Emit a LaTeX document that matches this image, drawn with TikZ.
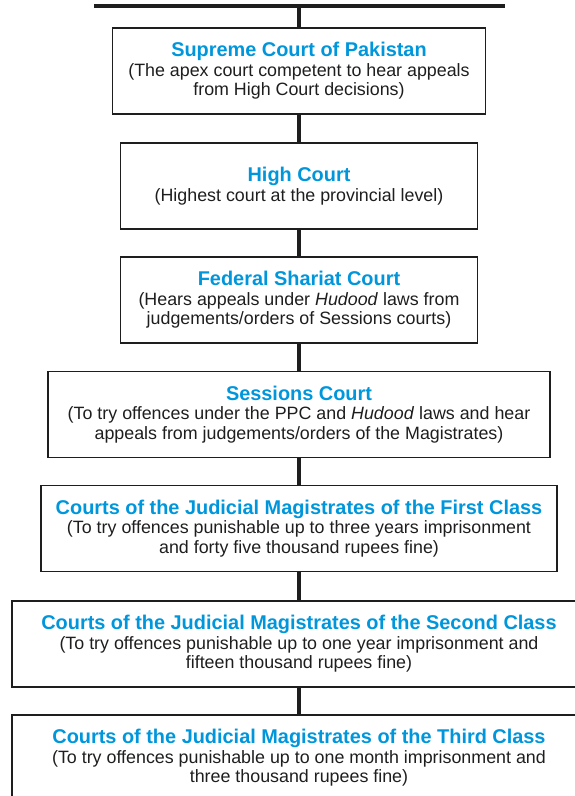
\documentclass[tikz,border=0pt]{standalone}
\usepackage{fontspec}
\setmainfont{Liberation Sans}
\definecolor{court-blue}{RGB}{0,150,219}
\definecolor{court-text}{RGB}{30,30,30}
\tikzset{
	courtbox/.style={draw=court-text, line width=1.4pt, align=center, inner sep=0pt,
		minimum height=86pt, text=court-text, font=\fontsize{17.85}{19.5}\selectfont},
	link/.style={line width=4pt, draw=court-text}
}
\newcommand{\Court}[5]{
	\node[courtbox, minimum width=#3pt] (#1) at (299,#2)
		{{\fontsize{19.9}{22}\selectfont\bfseries\color{court-blue}#4}\\#5};
}

\begin{document}
\begin{tikzpicture}[x=1pt,y=-1pt]
	\useasboundingbox (0,0) rectangle (574,796);
	
	%top bar
	\coordinate (bar-l) at (94,6);
	\coordinate (bar-r) at (505,6);
	\coordinate (bar-m) at (299,6);
	\draw[line width=3.5pt, draw=court-text] (bar-l) -- (bar-r);
	
	%courts
	\Court{supreme}{71}{373}{Supreme Court of Pakistan}{(The apex court competent to hear appeals\\from High Court decisions)}
	\Court{high}{186}{357}{High Court}{(Highest court at the provincial level)}
	\Court{shariat}{300}{357}{Federal Shariat Court}{(Hears appeals under \textit{Hudood} laws from\\judgements/orders of Sessions courts)}
	\Court{sessions}{414.5}{502}{Sessions Court}{(To try offences under the PPC and \textit{Hudood} laws and hear\\appeals from judgements/orders of the Magistrates)}
	\Court{firstclass}{528.5}{516}{Courts of the Judicial Magistrates of the First Class}{(To try offences punishable up to three years imprisonment\\and forty five thousand rupees fine)}
	\Court{secondclass}{644}{574}{Courts of the Judicial Magistrates of the Second Class}{(To try offences punishable up to one year imprisonment and\\fifteen thousand rupees fine)}
	\Court{thirdclass}{758}{574}{Courts of the Judicial Magistrates of the Third Class}{(To try offences punishable up to one month imprisonment and\\three thousand rupees fine)}
	
	%links
	\draw[link] (bar-m) -- (supreme.north);
	\foreach \a/\b in {supreme/high,high/shariat,shariat/sessions,sessions/firstclass,firstclass/secondclass,secondclass/thirdclass}{
		\draw[link] (\a.south) -- (\b.north);
	}
\end{tikzpicture}
\end{document}
